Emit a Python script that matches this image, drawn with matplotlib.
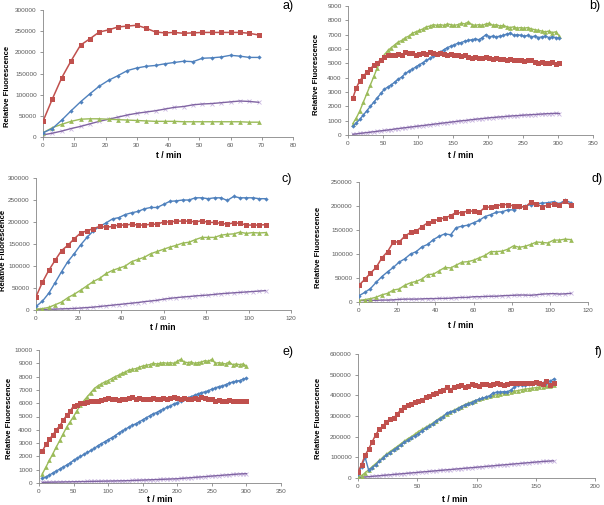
import numpy as np
import matplotlib
matplotlib.use("Agg")
import matplotlib.pyplot as plt

plt.rcParams['font.family'] = ['Liberation Sans', 'DejaVu Sans']

# colours of the four series (Excel defaults)
RED = '#C0504D'
BLUE = '#4F81BD'
GREEN = '#9BBB59'
PURPLE = '#8064A2'
PURPLE_MK = '#C9B6E0'

# ---- panel a ----
t_a = np.arange(0, 70, 3)
red_a = [37000, 90000, 140000, 180000, 217000, 232000, 248000, 253000, 260000, 262000,
         264000, 257000, 248000, 246000, 247000, 245000, 246000, 247000, 247000, 247000,
         247000, 247000, 245000, 241000]
blue_a = [10000, 20000, 40000, 62000, 83000, 102000, 120000, 134000, 145000, 157000,
          163000, 167000, 169000, 173000, 176000, 179000, 178000, 186000, 187000, 189000,
          193000, 191000, 188000, 188000]
green_a = [10000, 22000, 30000, 37000, 42000, 43000, 43000, 42000, 41000, 40000,
           39000, 38000, 37000, 37000, 37000, 36000, 36000, 36000, 36000, 36000,
           36000, 36000, 35000, 35000]
purple_a = [5000, 9000, 14000, 20000, 25000, 31000, 37000, 42000, 47000, 52000,
            56000, 59000, 62000, 66000, 70000, 72000, 76000, 78000, 79000, 81000,
            83000, 85000, 84000, 82000]

# ---- panel b ----
t_b = np.arange(7, 303, 5)
red_b = [2600, 3300, 3800, 4100, 4400, 4600, 4900, 5050, 5250, 5450,
         5550, 5600, 5600, 5650, 5550, 5800, 5750, 5700, 5600, 5650,
         5700, 5650, 5800, 5700, 5650, 5750, 5650, 5600, 5650, 5600,
         5550, 5500, 5550, 5450, 5400, 5450, 5400, 5350, 5450, 5400,
         5300, 5350, 5300, 5300, 5250, 5300, 5200, 5250, 5200, 5150,
         5200, 5200, 5100, 5050, 5100, 5000, 5050, 5100, 4950, 5000]
blue_b = [600, 850, 1100, 1400, 1700, 2000, 2300, 2600, 2900, 3200,
          3350, 3500, 3700, 3900, 4050, 4300, 4450, 4600, 4750, 4900,
          5050, 5200, 5350, 5500, 5650, 5800, 5950, 6100, 6200, 6300,
          6400, 6450, 6550, 6600, 6650, 6700, 6650, 6800, 7000, 6850,
          6900, 6850, 6900, 6950, 7050, 7100, 6950, 7000, 6950, 6900,
          6950, 6850, 6900, 6800, 6850, 6900, 6800, 6850, 6800, 6750]
green_b = [800, 1200, 1700, 2300, 2900, 3500, 4100, 4700, 5200, 5600,
           5900, 6100, 6300, 6500, 6600, 6800, 6900, 7100, 7200, 7300,
           7400, 7550, 7600, 7700, 7650, 7700, 7650, 7750, 7700, 7650,
           7700, 7800, 7750, 7900, 7700, 7650, 7700, 7650, 7750, 7800,
           7650, 7700, 7600, 7650, 7550, 7500, 7550, 7450, 7500, 7450,
           7500, 7400, 7350, 7300, 7250, 7200, 7250, 7150, 7200, 6900]
purple_b = [50, 80, 110, 140, 170, 200, 230, 260, 290, 320,
            350, 380, 420, 450, 480, 510, 540, 570, 600, 630,
            660, 690, 720, 750, 780, 810, 840, 870, 900, 930,
            960, 990, 1010, 1040, 1070, 1100, 1120, 1150, 1170, 1200,
            1220, 1240, 1260, 1280, 1300, 1320, 1340, 1350, 1370, 1390,
            1400, 1420, 1430, 1450, 1460, 1480, 1490, 1500, 1510, 1500]

# ---- panel c ----
t_c = np.arange(0, 109, 3)
red_c = [30000, 63000, 90000, 113000, 135000, 147000, 162000, 175000, 180000, 185000,
         190000, 188000, 190000, 193000, 193000, 195000, 193000, 193000, 195000, 195000,
         200000, 200000, 202000, 202000, 202000, 200000, 203000, 199000, 199000, 197000,
         195000, 198000, 197000, 193000, 193000, 193000, 194000]
blue_c = [8000, 20000, 38000, 62000, 87000, 110000, 128000, 148000, 165000, 180000,
          190000, 198000, 207000, 210000, 217000, 221000, 224000, 230000, 233000, 233000,
          240000, 247000, 248000, 250000, 250000, 255000, 255000, 253000, 255000, 255000,
          249000, 258000, 255000, 255000, 255000, 253000, 253000]
green_c = [2000, 3000, 6000, 12000, 18000, 28000, 36000, 45000, 55000, 65000,
           72000, 83000, 90000, 95000, 100000, 110000, 115000, 120000, 128000, 133000,
           138000, 143000, 147000, 152000, 154000, 160000, 165000, 165000, 165000, 170000,
           172000, 173000, 177000, 174000, 176000, 175000, 176000]
purple_c = [1000, 1200, 1500, 2000, 2500, 3000, 3500, 4500, 5500, 6500,
            8000, 9500, 11000, 12500, 14000, 15500, 17000, 19000, 20500, 22000,
            24500, 26500, 28000, 29500, 30500, 32000, 33000, 34000, 35500, 37000,
            38000, 39000, 40000, 41000, 42000, 43000, 44000]

# ---- panel d ----
t_d = np.arange(0, 112, 3)
red_d = [35000, 47000, 60000, 72000, 92000, 105000, 125000, 125000, 137000, 145000,
         148000, 157000, 165000, 168000, 173000, 175000, 180000, 187000, 185000, 190000,
         189000, 187000, 197000, 198000, 200000, 203000, 203000, 200000, 200000, 197000,
         208000, 205000, 198000, 202000, 205000, 202000, 210000, 202000]
blue_d = [13000, 20000, 28000, 41000, 53000, 63000, 72000, 83000, 90000, 100000,
          105000, 115000, 120000, 130000, 137000, 142000, 140000, 155000, 158000, 160000,
          165000, 170000, 178000, 182000, 187000, 188000, 192000, 192000, 197000, 200000,
          203000, 205000, 206000, 207000, 209000, 205000, 212000, 207000]
green_d = [3000, 5000, 7000, 10000, 15000, 18000, 25000, 27000, 35000, 40000,
           43000, 48000, 57000, 58000, 65000, 72000, 71000, 77000, 83000, 84000,
           87000, 92000, 97000, 105000, 105000, 106000, 110000, 117000, 114000, 116000,
           120000, 125000, 124000, 123000, 129000, 129000, 131000, 130000]
purple_d = [3000, 3000, 3500, 3500, 4000, 4000, 4500, 5500, 6000, 6000,
            6000, 6500, 7000, 7000, 7500, 7500, 8000, 9000, 9500, 9500,
            11000, 11000, 11500, 12000, 12000, 13000, 13500, 14000, 14500, 14500,
            14000, 15000, 16500, 17000, 17500, 16500, 17000, 18000]

# ---- panel e ----
t_e = np.arange(5, 301, 5)
red_e = [2400, 2900, 3300, 3600, 4000, 4300, 4700, 5100, 5400, 5800,
         5900, 6000, 6050, 6100, 6200, 6150, 6200, 6250, 6300, 6400,
         6300, 6350, 6250, 6300, 6350, 6400, 6450, 6350, 6400, 6350,
         6300, 6350, 6400, 6300, 6350, 6400, 6350, 6400, 6450, 6400,
         6350, 6400, 6300, 6350, 6400, 6350, 6450, 6400, 6300, 6350,
         6200, 6250, 6200, 6150, 6250, 6200, 6150, 6200, 6150, 6200]
blue_e = [350, 450, 600, 750, 900, 1050, 1200, 1350, 1500, 1700,
          1850, 2000, 2150, 2300, 2450, 2600, 2800, 2950, 3100, 3250,
          3400, 3550, 3750, 3900, 4050, 4200, 4350, 4450, 4600, 4750,
          4900, 5050, 5200, 5300, 5450, 5550, 5700, 5800, 5950, 6050,
          6150, 6300, 6400, 6500, 6600, 6700, 6800, 6850, 6950, 7050,
          7150, 7250, 7300, 7400, 7500, 7600, 7650, 7700, 7800, 7900]
green_e = [700, 1200, 1700, 2200, 2700, 3200, 3700, 4200, 4600, 5000,
           5450, 5850, 6200, 6500, 6800, 7100, 7300, 7450, 7600, 7700,
           7850, 8000, 8100, 8250, 8350, 8500, 8550, 8600, 8700, 8800,
           8850, 8900, 9000, 8950, 9000, 9050, 9000, 9050, 9000, 9150,
           9300, 9100, 9050, 9100, 9000, 9050, 9100, 9200, 9150, 9300,
           9000, 9050, 9000, 8950, 9100, 8900, 8950, 8900, 8950, 8800]
purple_e = [50, 55, 60, 65, 70, 75, 80, 85, 90, 95,
            100, 105, 110, 115, 120, 125, 130, 135, 140, 145,
            150, 155, 160, 165, 170, 180, 190, 200, 210, 220,
            230, 240, 250, 260, 270, 280, 290, 300, 310, 320,
            340, 360, 380, 400, 420, 440, 460, 480, 500, 520,
            540, 560, 580, 600, 620, 640, 660, 680, 690, 700]

# ---- panel f ----
t_f = np.arange(0, 166, 3)
red_f = [30000, 65000, 110000, 140000, 175000, 210000, 235000, 252000, 272000, 285000,
         290000, 308000, 330000, 345000, 355000, 360000, 370000, 372000, 378000, 390000,
         395000, 405000, 410000, 420000, 428000, 440000, 428000, 440000, 445000, 450000,
         440000, 443000, 455000, 450000, 445000, 455000, 455000, 450000, 455000, 458000,
         455000, 452000, 455000, 460000, 458000, 462000, 458000, 460000, 462000, 458000,
         465000, 460000, 455000, 470000, 452000, 458000]
blue_f = [20000, 55000, 100000, 38000, 50000, 65000, 80000, 95000, 110000, 123000,
          135000, 147000, 160000, 172000, 183000, 195000, 205000, 215000, 228000, 240000,
          250000, 262000, 275000, 287000, 297000, 315000, 320000, 325000, 335000, 345000,
          352000, 360000, 365000, 375000, 380000, 385000, 392000, 398000, 412000, 415000,
          415000, 418000, 418000, 425000, 440000, 450000, 448000, 450000, 455000, 455000,
          458000, 460000, 460000, 462000, 468000, 478000]
green_f = [5000, 12000, 25000, 40000, 55000, 70000, 85000, 100000, 115000, 128000,
           140000, 152000, 165000, 178000, 190000, 200000, 212000, 225000, 235000, 245000,
           255000, 265000, 278000, 290000, 300000, 310000, 320000, 328000, 337000, 345000,
           355000, 362000, 368000, 375000, 380000, 385000, 390000, 395000, 400000, 403000,
           407000, 410000, 413000, 417000, 420000, 423000, 427000, 430000, 432000, 435000,
           437000, 440000, 442000, 444000, 446000, 448000]
purple_f = [2000, 3500, 5000, 6500, 8000, 9500, 11000, 12500, 14000, 15500,
            17000, 18500, 20000, 21500, 23000, 24500, 26000, 27500, 29000, 30500,
            32000, 33500, 35000, 36500, 38000, 39500, 41000, 42500, 44000, 45500,
            47000, 48500, 50000, 51500, 53000, 54500, 56000, 57500, 59000, 60500,
            62000, 63500, 65000, 66500, 68000, 69500, 71000, 72500, 74000, 75500,
            77000, 78500, 80000, 81000, 82000, 83000]

W, H = 604, 505
fig = plt.figure(figsize=(W / 100, H / 100), dpi=100)

# box in pixels (left, right, top, bottom), limits, ticks, label spots
panels = [
    dict(name='a)', box=(43, 293, 10, 137), t=t_a, s=(red_a, blue_a, green_a, purple_a),
         xmax=80, xstep=10, ymax=300000, ystep=50000,
         ylab=(8, 86), xlab=(169, 155), tag=(288, 6)),
    dict(name='b)', box=(348, 593, 6, 135), t=t_b, s=(red_b, blue_b, green_b, purple_b),
         xmax=350, xstep=50, ymax=9000, ystep=1000,
         ylab=(317, 74), xlab=(461, 155), tag=(595, 6)),
    dict(name='c)', box=(36, 291, 178, 310), t=t_c, s=(red_c, blue_c, green_c, purple_c),
         xmax=120, xstep=20, ymax=300000, ystep=50000,
         ylab=(4, 250), xlab=(163, 328), tag=(287, 179)),
    dict(name='d)', box=(359, 588, 182, 302), t=t_d, s=(red_d, blue_d, green_d, purple_d),
         xmax=120, xstep=20, ymax=250000, ystep=50000,
         ylab=(319, 247), xlab=(461, 325), tag=(597, 179)),
    dict(name='e)', box=(39, 281, 350, 483), t=t_e, s=(red_e, blue_e, green_e, purple_e),
         xmax=350, xstep=50, ymax=10000, ystep=1000,
         ylab=(10, 418), xlab=(160, 500), tag=(288, 352)),
    dict(name='f)', box=(358, 595, 354, 478), t=t_f, s=(red_f, blue_f, green_f, purple_f),
         xmax=200, xstep=50, ymax=600000, ystep=100000,
         ylab=(319, 418), xlab=(455, 500), tag=(599, 352)),
]

for p in panels:
    x0, x1, y0, y1 = p['box']
    ax = fig.add_axes([x0 / W, 1 - y1 / H, (x1 - x0) / W, (y1 - y0) / H])
    red, blue, green, purple = p['s']
    t = p['t']
    # purple: light markers under a darker line
    ax.plot(t, purple, ls='none', marker='x', ms=2.4, mew=0.6, mec=PURPLE_MK, zorder=2)
    ax.plot(t, purple, color=PURPLE, lw=1.0, zorder=2.5)
    ax.plot(t, green, color=GREEN, lw=1.0, marker='^', ms=3.4, mew=0, zorder=3)
    ax.plot(t, blue, color=BLUE, lw=1.0, marker='D', ms=2.2, mew=0, zorder=4)
    ax.plot(t, red, color=RED, lw=1.1, marker='s', ms=3.6, mew=0, zorder=5)

    ax.set_xlim(0, p['xmax'])
    ax.set_ylim(0, p['ymax'])
    ax.set_xticks(np.arange(0, p['xmax'] + 1, p['xstep']))
    ax.set_yticks(np.arange(0, p['ymax'] + 1, p['ystep']))
    ax.yaxis.set_major_formatter(matplotlib.ticker.FuncFormatter(lambda v, pos: '%d' % v))
    for side in ('top', 'right'):
        ax.spines[side].set_visible(False)
    for side in ('left', 'bottom'):
        ax.spines[side].set_color('#868686')
        ax.spines[side].set_linewidth(0.6)
    ax.tick_params(direction='out', length=2.5, width=0.6, color='#868686',
                   labelsize=4.6, labelcolor='#595959', pad=2)
    ax.patch.set_visible(False)

    fig.text(p['ylab'][0] / W, 1 - p['ylab'][1] / H, 'Relative Fluorescence',
             rotation=90, ha='center', va='center', fontsize=5.6, fontweight='bold')
    fig.text(p['xlab'][0] / W, 1 - p['xlab'][1] / H, 't / min',
             ha='center', va='center', fontsize=6.2, fontweight='bold')
    fig.text(p['tag'][0] / W, 1 - p['tag'][1] / H, p['name'],
             ha='center', va='center', fontsize=9)

fig.savefig('out.png', dpi=100)
